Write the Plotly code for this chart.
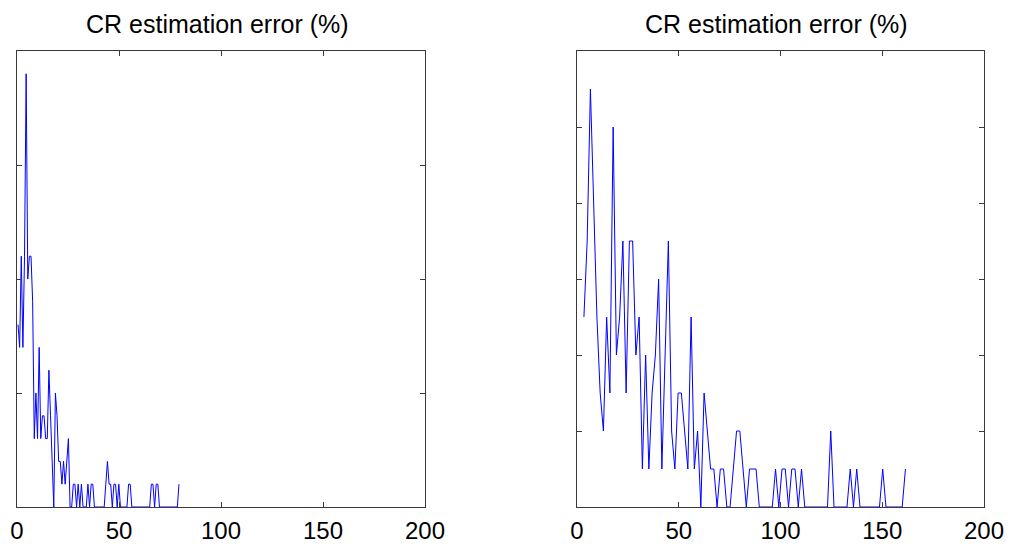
import numpy as np
import plotly.graph_objects as go

# Histogram-like error counts (100 bins each)
left_counts = [8, 7, 11, 7, 11, 19, 10, 11, 11, 9,
               3, 5, 3, 7, 3, 4, 4, 3, 3, 6,
               4, 2, 0, 5, 4, 2, 2, 1, 2, 1,
               2, 3, 0, 0, 1, 1, 0, 1, 0, 1,
               0, 0, 0, 1, 0, 1, 1, 0, 0, 0,
               0, 0, 0, 0, 1, 2, 1, 1, 0, 1,
               1, 0, 1, 0, 0, 0, 0, 0, 1, 1,
               0, 0, 0, 0, 0, 0, 0, 0, 0, 0,
               0, 0, 1, 1, 0, 1, 1, 0, 0, 0,
               0, 0, 0, 0, 0, 0, 0, 0, 0, 1]
right_counts = [5, 7, 11, 8, 5, 3, 2, 5, 3, 10,
                4, 5, 7, 3, 7, 7, 4, 5, 1, 4,
                1, 3, 4, 6, 1, 4, 7, 2, 1, 3,
                3, 2, 1, 5, 1, 2, 0, 3, 2, 1,
                1, 0, 1, 1, 0, 0, 1, 2, 2, 1,
                0, 1, 1, 1, 0, 0, 0, 0, 0, 1,
                0, 1, 1, 0, 1, 1, 0, 1, 0, 0,
                0, 0, 0, 0, 0, 0, 2, 0, 0, 0,
                0, 0, 1, 0, 1, 0, 0, 0, 0, 0,
                0, 0, 1, 0, 0, 0, 0, 0, 0, 1]

# bin centres (first and last centre of each histogram)
left_bin_range = (0.5, 79.4)
right_bin_range = (3.4, 161.4)
left_x = np.linspace(left_bin_range[0], left_bin_range[1], len(left_counts))
right_x = np.linspace(right_bin_range[0], right_bin_range[1], len(right_counts))

x_ticks = [0, 50, 100, 150, 200]
title_text = "CR estimation error (%)"

W, H = 1013, 546
FONT = "Liberation Sans, Arial, Helvetica, sans-serif"
AX = "#3a3a3a"

fig = go.Figure()
fig.add_trace(go.Scatter(x=left_x, y=left_counts, mode="lines",
                         line=dict(color="#0000ff", width=1),
                         xaxis="x", yaxis="y", hoverinfo="skip"))
fig.add_trace(go.Scatter(x=right_x, y=right_counts, mode="lines",
                         line=dict(color="#0000ff", width=1),
                         xaxis="x2", yaxis="y2", hoverinfo="skip"))

xd1 = [17 / W, 425 / W]
xd2 = [577 / W, 984 / W]
yd = [(H - 507) / H, (H - 51) / H]

xcommon = dict(range=[0, 200], tickvals=x_ticks, ticktext=[str(t) for t in x_ticks],
               ticks="inside", ticklen=5, tickcolor=AX, showline=True, linecolor=AX,
               linewidth=1, mirror="allticks", showgrid=False, zeroline=False,
               tickfont=dict(family=FONT, size=24, color="black"),
               ticklabelstandoff=2, fixedrange=True, automargin=False)
ycommon = dict(ticks="inside", ticklen=5, tickcolor=AX, showline=True, linecolor=AX,
               linewidth=1, mirror="allticks", showgrid=False, zeroline=False,
               showticklabels=False, fixedrange=True, automargin=False)

fig.update_layout(
    width=W, height=H, margin=dict(l=0, r=0, t=0, b=0, autoexpand=False),
    paper_bgcolor="white", plot_bgcolor="white", showlegend=False,
    xaxis=dict(domain=xd1, anchor="y", **xcommon),
    yaxis=dict(domain=yd, anchor="x", range=[0, 20], dtick=5, **ycommon),
    xaxis2=dict(domain=xd2, anchor="y2", **xcommon),
    yaxis2=dict(domain=yd, anchor="x2", range=[0, 12], dtick=2, **ycommon),
    annotations=[
        dict(text=title_text, x=(xd1[0] + xd1[1]) / 2 - 4 / W, y=(H - 24) / H,
             xref="paper", yref="paper", showarrow=False, xanchor="center", yanchor="middle",
             font=dict(family=FONT, size=25, color="black")),
        dict(text=title_text, x=(xd2[0] + xd2[1]) / 2 - 4 / W, y=(H - 24) / H,
             xref="paper", yref="paper", showarrow=False, xanchor="center", yanchor="middle",
             font=dict(family=FONT, size=25, color="black")),
    ],
)

fig.write_html("out.html", config={"displayModeBar": False, "staticPlot": True})
